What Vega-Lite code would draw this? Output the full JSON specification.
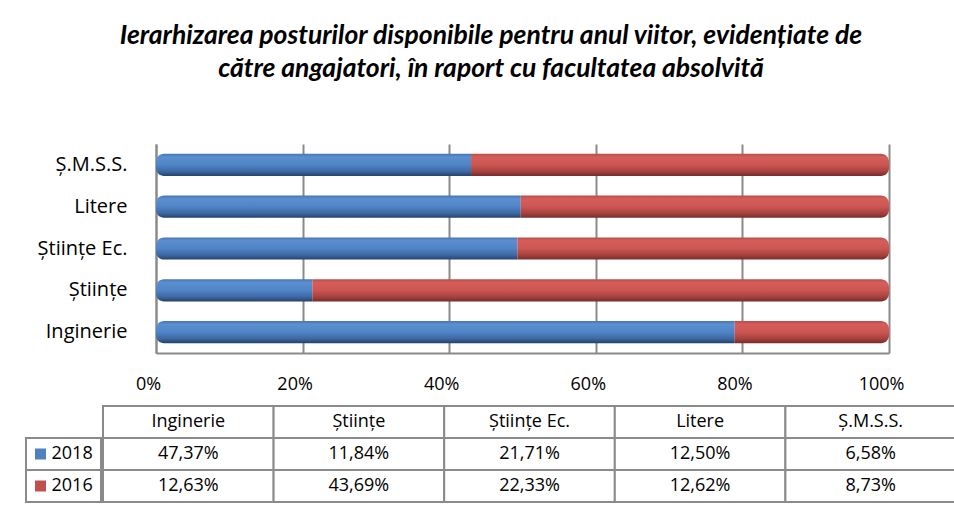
{
  "$schema": "https://vega.github.io/schema/vega-lite/v6.json",
  "background": "white",
  "padding": {"left": 25, "top": 22, "right": 0, "bottom": 0},
  "datasets": {
    "d": [
      {"facultate": "Inginerie", "an": "2018", "procent": 0.4737},
      {"facultate": "Inginerie", "an": "2016", "procent": 0.1263},
      {"facultate": "Științe", "an": "2018", "procent": 0.1184},
      {"facultate": "Științe", "an": "2016", "procent": 0.4369},
      {"facultate": "Științe Ec.", "an": "2018", "procent": 0.2171},
      {"facultate": "Științe Ec.", "an": "2016", "procent": 0.2233},
      {"facultate": "Litere", "an": "2018", "procent": 0.1250},
      {"facultate": "Litere", "an": "2016", "procent": 0.1262},
      {"facultate": "Ș.M.S.S.", "an": "2018", "procent": 0.0658},
      {"facultate": "Ș.M.S.S.", "an": "2016", "procent": 0.0873}
    ]
  },
  "title": {
    "text": ["Ierarhizarea posturilor disponibile pentru anul viitor, evidențiate de", "către angajatori, în raport cu facultatea absolvită"],
    "anchor": "middle",
    "font": "Lato",
    "fontSize": 26.5,
    "fontWeight": "bold",
    "fontStyle": "italic",
    "color": "black",
    "lineHeight": 33,
    "offset": 62
  },
  "spacing": 12,
  "resolve": {"scale": {"x": "independent", "y": "independent", "color": "independent"}},
  "vconcat": [
    {
      "spacing": 0,
      "bounds": "flush",
      "resolve": {"scale": {"x": "independent", "y": "independent"}},
      "hconcat": [
        {
          "width": 130,
          "height": 1,
          "data": {"values": []},
          "mark": {"type": "point", "opacity": 0}
        },
        {
          "width": 733,
          "height": 209,
          "data": {"name": "d"},
          "transform": [
            {"stack": "procent", "groupby": ["facultate"], "sort": [{"field": "an", "order": "descending"}], "offset": "normalize", "as": ["x0", "x1"]}
          ],
          "encoding": {
            "y": {
              "field": "facultate", "type": "nominal",
              "sort": ["Ș.M.S.S.", "Litere", "Științe Ec.", "Științe", "Inginerie"],
              "scale": {"paddingInner": 0.47, "paddingOuter": 0.235},
              "axis": {"title": null, "labelFont": "Open Sans", "labelFontSize": 20, "labelColor": "black", "labelPadding": 29, "ticks": false, "domainColor": "#8a8a8a", "domainWidth": 2, "labelLimit": 200}
            },
            "x": {
              "field": "x0", "type": "quantitative",
              "scale": {"domain": [0, 1]},
              "axis": {"title": null, "format": "%", "values": [0, 0.2, 0.4, 0.6, 0.8, 1], "labelFont": "Open Sans", "labelFontSize": 18, "labelColor": "black", "labelPadding": 22, "ticks": false, "grid": true, "gridColor": "#8a8a8a", "gridWidth": 2, "domainColor": "#8a8a8a", "domainWidth": 2, "labelOffset": -8, "labelFlush": false}
            },
            "x2": {"field": "x1"}
          },
          "layer": [
            {
              "transform": [{"filter": "datum.an == '2018'"}],
              "mark": {
                "type": "bar",
                "cornerRadiusTopLeft": 8, "cornerRadiusBottomLeft": 8,
                "color": {"gradient": "linear", "x1": 0, "y1": 0, "x2": 0, "y2": 1,
                  "stops": [
                    {"offset": 0, "color": "#4577B5"},
                    {"offset": 0.15, "color": "#5B8FD0"},
                    {"offset": 0.5, "color": "#4F84C6"},
                    {"offset": 0.8, "color": "#3D68A2"},
                    {"offset": 1, "color": "#24426B"}
                  ]}
              }
            },
            {
              "transform": [{"filter": "datum.an == '2016'"}],
              "mark": {
                "type": "bar",
                "cornerRadiusTopRight": 8, "cornerRadiusBottomRight": 8,
                "color": {"gradient": "linear", "x1": 0, "y1": 0, "x2": 0, "y2": 1,
                  "stops": [
                    {"offset": 0, "color": "#B84D4A"},
                    {"offset": 0.15, "color": "#D65E5A"},
                    {"offset": 0.5, "color": "#CC5652"},
                    {"offset": 0.8, "color": "#A5413E"},
                    {"offset": 1, "color": "#762D2B"}
                  ]}
              }
            }
          ]
        }
      ]
    },
    {
      "spacing": 0,
      "resolve": {"scale": {"x": "independent", "y": "independent", "color": "independent"}},
      "hconcat": [
        {
          "width": 75,
          "height": 96,
          "data": {"name": "d"},
          "transform": [{"filter": "datum.facultate == 'Inginerie'"}],
          "encoding": {
            "y": {"field": "an", "type": "nominal", "scale": {"domain": ["hdr", "2018", "2016"], "paddingInner": 0, "paddingOuter": 0}, "axis": null}
          },
          "layer": [
            {"mark": {"type": "rect", "fill": "white", "stroke": "#8a8a8a", "strokeWidth": 2}},
            {
              "mark": {"type": "square", "size": 121, "xOffset": -23, "opacity": 1},
              "encoding": {"color": {"field": "an", "type": "nominal", "scale": {"domain": ["2018", "2016"], "range": ["#4F81BD", "#C0504D"]}, "legend": null}}
            },
            {
              "mark": {"type": "text", "align": "left", "dx": -12, "font": "Open Sans", "fontSize": 18, "color": "black"},
              "encoding": {"text": {"field": "an"}}
            }
          ]
        },
        {
          "width": 853,
          "height": 96,
          "data": {"name": "d"},
          "encoding": {
            "x": {"field": "facultate", "type": "nominal", "sort": ["Inginerie", "Științe", "Științe Ec.", "Litere", "Ș.M.S.S."], "scale": {"paddingInner": 0, "paddingOuter": 0}, "axis": null}
          },
          "layer": [
            {
              "mark": {"type": "rect", "fill": "white", "stroke": "#8a8a8a", "strokeWidth": 2},
              "encoding": {"y": {"field": "an", "type": "nominal", "scale": {"domain": ["hdr", "2018", "2016"], "paddingInner": 0, "paddingOuter": 0}, "axis": null}}
            },
            {
              "transform": [{"filter": "datum.an == '2018'"}],
              "mark": {"type": "rect", "fill": "white", "stroke": "#8a8a8a", "strokeWidth": 2},
              "encoding": {"y": {"datum": "hdr", "type": "nominal"}}
            },
            {
              "mark": {"type": "text", "font": "Open Sans", "fontSize": 18, "color": "black"},
              "encoding": {
                "y": {"field": "an", "type": "nominal"},
                "text": {"field": "procent", "type": "quantitative", "format": ".2%"}
              }
            },
            {
              "transform": [{"filter": "datum.an == '2018'"}],
              "mark": {"type": "text", "font": "Open Sans", "fontSize": 18, "color": "black"},
              "encoding": {
                "y": {"datum": "hdr", "type": "nominal"},
                "text": {"field": "facultate"}
              }
            }
          ]
        }
      ]
    }
  ],
  "config": {
    "view": {"stroke": null},
    "font": "Open Sans",
    "locale": {"number": {"decimal": ",", "thousands": ".", "grouping": [3], "currency": ["", " lei"]}}
  }
}
